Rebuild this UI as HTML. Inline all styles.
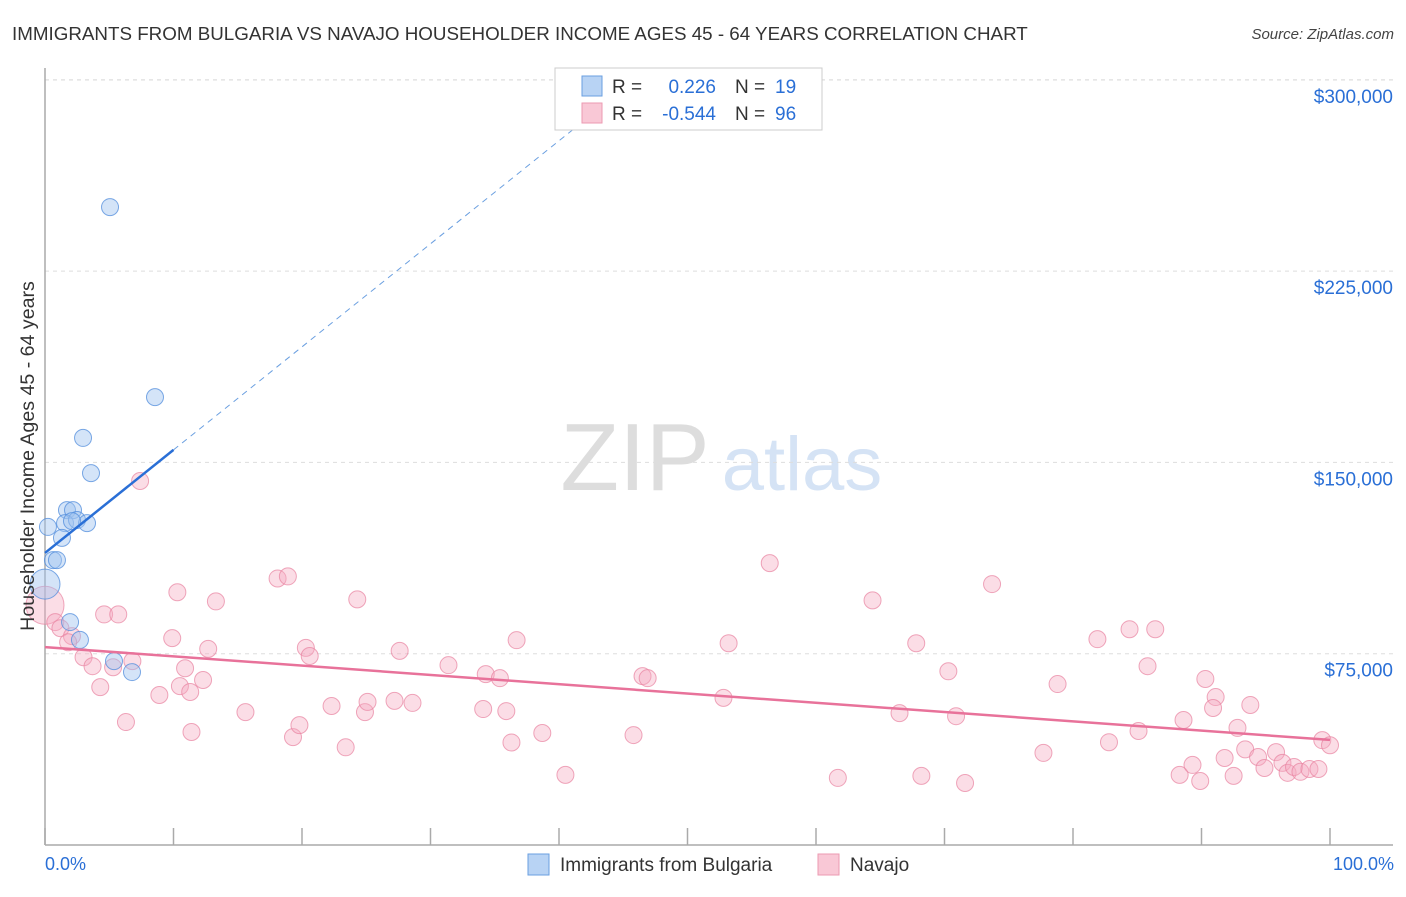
<!DOCTYPE html>
<html><head><meta charset="utf-8"><style>
body{margin:0;background:#fff;font-family:"Liberation Sans",sans-serif;}
svg text{font-family:"Liberation Sans",sans-serif;}
</style></head><body>
<svg id="chart" width="1406" height="892" xmlns="http://www.w3.org/2000/svg">
<text x="12" y="40" font-size="18.8" fill="#333">IMMIGRANTS FROM BULGARIA VS NAVAJO HOUSEHOLDER INCOME AGES 45 - 64 YEARS CORRELATION CHART</text>
<text x="1394" y="39" font-size="15" fill="#444" font-style="italic" text-anchor="end">Source: ZipAtlas.com</text>
<g>
<text x="635" y="490" font-size="96" fill="#ddd" text-anchor="middle" font-family="Liberation Serif,serif">ZIP</text>
<text x="802" y="490" font-size="76" fill="#d5e3f5" text-anchor="middle">atlas</text>
</g>
<g id="grid"></g>
<g id="axes"></g>
<g id="marks"></g>
<g>
<rect x="555" y="68" width="267" height="62" fill="#fff" stroke="#ccc"/>
<rect x="582" y="76" width="20" height="20" fill="#b8d3f4" stroke="#6a9fe0"/>
<text x="612" y="93" font-size="19" fill="#333">R = </text><text x="716" y="93" font-size="19" fill="#2a6fd6" text-anchor="end">0.226</text>
<text x="735" y="93" font-size="19" fill="#333">N = </text><text x="775" y="93" font-size="19" fill="#2a6fd6">19</text>
<rect x="582" y="103" width="20" height="20" fill="#f9c8d6" stroke="#ec9ab2"/>
<text x="612" y="120" font-size="19" fill="#333">R = </text><text x="716" y="120" font-size="19" fill="#2a6fd6" text-anchor="end">-0.544</text>
<text x="735" y="120" font-size="19" fill="#333">N = </text><text x="775" y="120" font-size="19" fill="#2a6fd6">96</text>
</g>
<text x="34" y="456" font-size="19.6" fill="#333" text-anchor="middle" transform="rotate(-90 34 456)">Householder Income Ages 45 - 64 years</text>
<text x="45" y="870" font-size="18" fill="#2a6fd6">0.0%</text>
<text x="1394" y="870" font-size="18" fill="#2a6fd6" text-anchor="end">100.0%</text>
<g>
<rect x="528" y="854" width="21" height="21" fill="#b8d3f4" stroke="#6a9fe0"/>
<text x="560" y="871" font-size="19" fill="#333">Immigrants from Bulgaria</text></g>
<g>
<rect x="818" y="854" width="21" height="21" fill="#f9c8d6" stroke="#ec9ab2"/>
<text x="850" y="871" font-size="19" fill="#333">Navajo</text></g>
</svg>
<script>
const yTicks=[75000,150000,225000,300000];
const yTickLabels=["$75,000","$150,000","$225,000","$300,000"];
const xTicks=[0,10,20,30,40,50,60,70,80,90,100];
const bulgariaX=[5.06,8.56,2.96,3.58,1.71,2.18,1.56,2.49,3.27,0.23,1.32,0.62,0.93,0,1.95,2.72,5.37,6.77,2.1];
const bulgariaY=[250100,175600,159600,145800,131300,131300,126200,127400,126200,124700,120400,111700,111700,102300,87400,80400,72100,67800,127000];
const bulgariaR=[8.5,8.5,8.5,8.5,8.5,8.5,8.5,8.5,8.5,8.5,8.5,8.5,8.5,15,8.5,8.5,8.5,8.5,8.5];
const navajoX=[0,0.8,1.2,2.1,1.8,3,3.7,4.3,4.6,5.7,5.3,6.8,7.4,6.3,8.9,9.9,10.3,10.9,10.5,11.4,11.3,12.3,12.7,13.3,15.6,18.1,18.9,19.3,19.8,20.3,20.6,22.3,23.4,24.3,24.9,25.1,27.2,27.6,28.6,31.4,34.1,34.3,35.4,35.9,36.3,36.7,38.7,40.5,45.8,46.5,46.9,52.8,53.2,56.4,61.7,64.4,66.5,67.8,68.2,70.3,70.9,71.6,73.7,77.7,78.8,81.9,82.8,84.4,85.1,85.8,86.4,88.3,88.6,89.3,89.9,90.3,91.1,90.9,91.8,92.5,92.8,93.4,93.8,94.4,94.9,95.8,96.3,96.7,97.2,97.7,98.4,99.1,99.4,100];
const navajoY=[94000,87400,85000,81900,79500,73600,70100,61900,90400,90400,69700,72100,142700,48200,58800,81100,99100,69300,62300,44300,60000,64700,76900,95500,52100,104500,105300,42300,47000,77300,74100,54500,38300,96300,52100,56100,56500,76100,55700,70500,53300,67000,65400,52500,40200,80300,43900,27500,43100,66200,65400,57700,79100,110500,26300,95900,51700,79100,27100,68100,50500,24300,102300,36100,63100,80700,40300,84600,44700,70100,84600,27500,49000,31400,25100,65100,58000,53700,34100,27100,45900,37500,54900,34500,30200,36400,32200,28300,30600,28700,29800,29800,41100,39100];
const trendBulgaria=[114500,154900]; // values at 0% and 10%
const trendNavajo=[77600,41200];     // values at 0% and 100%
const X0=45,X1=1330,Y0=845,YPX=191.3/75000;
function sx(p){return X0+(X1-X0)*p/100;}
function sy(v){return Y0-v*YPX;}
const NS="http://www.w3.org/2000/svg";
function mk(parent,tag,attrs){const e=document.createElementNS(NS,tag);for(const k in attrs)e.setAttribute(k,attrs[k]);document.getElementById(parent).appendChild(e);return e;}
yTicks.forEach((v,i)=>{
 const g=mk('grid','line',{x1:45,x2:1393,y1:sy(v),y2:sy(v),stroke:'#ddd','stroke-dasharray':'4 4'});
 
 
 const t=mk('grid','text',{x:1393,y:sy(v)+23,'font-size':19,fill:'#2a6fd6','text-anchor':'end'});
 t.textContent=yTickLabels[i];
 
 
});
const gl=mk('grid','line',{x1:45,x2:1393,y1:80,y2:80,stroke:'#ddd','stroke-dasharray':'4 4'});


const ya=mk('axes','line',{x1:45,x2:45,y1:68,y2:845,stroke:'#aaa','stroke-width':1.5});


const xa=mk('axes','line',{x1:45,x2:1393,y1:845,y2:845,stroke:'#aaa','stroke-width':1.5});


xTicks.forEach(p=>{
 const t=mk('axes','line',{x1:sx(p),x2:sx(p),y1:828,y2:845,stroke:'#aaa','stroke-width':1.5});
 
 
});
navajoX.forEach((p,i)=>{
 const r=i===0?19:8.5;
 const c=mk('marks','circle',{cx:sx(p),cy:sy(navajoY[i]),r:r,fill:'rgba(244,170,192,0.4)',stroke:'rgba(232,130,160,0.7)','stroke-width':1});
 
 
});
bulgariaX.forEach((p,i)=>{
 const c=mk('marks','circle',{cx:sx(p),cy:sy(bulgariaY[i]),r:bulgariaR[i],fill:'rgba(160,195,240,0.45)',stroke:'rgba(80,140,220,0.75)','stroke-width':1});
 
 
});
const slopeB=(trendBulgaria[1]-trendBulgaria[0])/10;
const xe=(288000-trendBulgaria[0])/slopeB;
const bd=mk('marks','line',{x1:sx(10),y1:sy(trendBulgaria[1]),x2:sx(xe),y2:sy(trendBulgaria[0]+slopeB*xe),stroke:'#6a9fe0','stroke-width':1,'stroke-dasharray':'6 5'});


const bl=mk('marks','line',{x1:sx(0),y1:sy(trendBulgaria[0]),x2:sx(10),y2:sy(trendBulgaria[1]),stroke:'#2a6fd6','stroke-width':2.5});


const nl=mk('marks','line',{x1:sx(0),y1:sy(trendNavajo[0]),x2:sx(100),y2:sy(trendNavajo[1]),stroke:'#e8729a','stroke-width':2.5});


</script>
</body></html>
